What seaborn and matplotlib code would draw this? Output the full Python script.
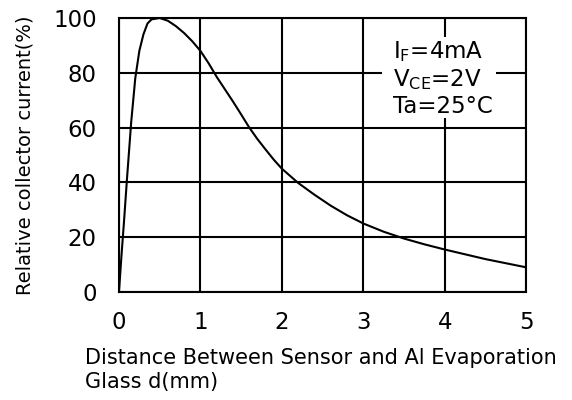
import numpy as np
import pandas as pd
import matplotlib
matplotlib.use('Agg')
import matplotlib.pyplot as plt
from matplotlib.patches import Rectangle
import seaborn as sns

# values
distance_mm = [0, 0.03, 0.06, 0.1, 0.15, 0.2, 0.25, 0.3, 0.35, 0.4, 0.5, 0.6, 0.7,
               0.8, 0.9, 1.0, 1.1, 1.2, 1.3, 1.4, 1.5, 1.6, 1.7, 1.8, 1.9, 2.0,
               2.2, 2.4, 2.6, 2.8, 3.0, 3.25, 3.5, 3.75, 4.0, 4.5, 5.0]
rel_current = [0, 13, 25, 42, 62, 78, 88, 94, 98, 99.5, 100, 99, 97,
               94.5, 91.5, 88, 83.5, 78.5, 74, 69.5, 64.8, 60, 55.8, 52, 48.3, 45,
               39.8, 35.5, 31.5, 28, 25, 22, 19.5, 17.4, 15.5, 12, 9]
x_ticks = [0, 1, 2, 3, 4, 5]
y_ticks = [0, 20, 40, 60, 80, 100]
conditions = ['I$_{F}$=4mA', 'V$_{CE}$=2V', 'Ta=25°C']

sns.set_style('white')
plt.rcParams['font.family'] = ['DejaVu Sans']
plt.rcParams['mathtext.default'] = 'regular'
plt.rcParams['text.color'] = 'black'

df = pd.DataFrame({'d': distance_mm, 'ic': rel_current})

fig = plt.figure(figsize=(5.72, 4.0), dpi=100)
ax = fig.add_axes([0.208, 0.27, 0.712, 0.685])

sns.lineplot(data=df, x='d', y='ic', ax=ax, color='black', linewidth=1.5, sort=False)

ax.set_xlim(0, 5)
ax.set_ylim(0, 100)
ax.set_xticks(x_ticks)
ax.set_yticks(y_ticks)
ax.grid(True, color='black', linewidth=1.5)
ax.set_axisbelow(True)
for s in ax.spines.values():
    s.set_color('black')
    s.set_linewidth(1.5)
ax.tick_params(length=0, labelsize=16.5, colors='black')
ax.tick_params(axis='x', pad=14)
ax.tick_params(axis='y', pad=16)
ax.set_xlabel('')
ax.set_ylabel('')

# white box behind the test conditions
ax.add_patch(Rectangle((0.646, 0.635), 0.28, 0.295, transform=ax.transAxes,
                       facecolor='white', edgecolor='none', zorder=3))
for i, txt in enumerate(conditions):
    ax.text(0.673, 0.876 - i * 0.1, txt, transform=ax.transAxes, fontsize=16.5,
            va='center', ha='left', zorder=4)

fig.text(0.044, 0.6125, 'Relative collector current(%)', rotation=90,
         fontsize=14, va='center', ha='center')
fig.text(0.148, 0.075, 'Distance Between Sensor and Al Evaporation\nGlass d(mm)',
         fontsize=15, va='center', ha='left', linespacing=1.25)

fig.savefig('out.png', dpi=100)
